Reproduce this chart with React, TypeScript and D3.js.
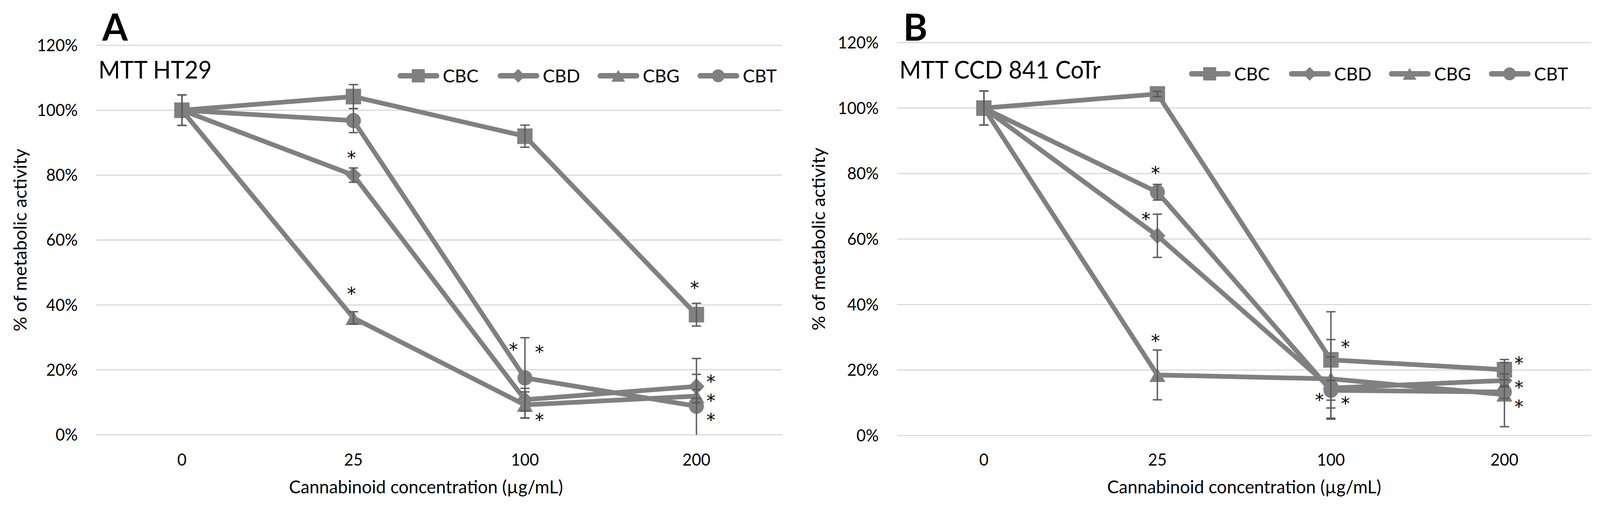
import React from 'react';
import * as d3 from 'd3';

const categories = ['0', '25', '100', '200'];
const seriesNames = ['CBC', 'CBD', 'CBG', 'CBT'];
const yTicks = [0, 20, 40, 60, 80, 100, 120];

// A: HT29, mean % and error
const htCBC = [100, 104.2, 92.0, 37.0];
const htCBD = [100, 80.0, 10.8, 14.9];
const htCBG = [100, 36.0, 9.2, 11.9];
const htCBT = [100, 96.8, 17.5, 8.8];
const htCBCErr = [4.7, 3.7, 3.4, 3.5];
const htCBDErr = [4.7, 2.2, 3.5, 3.7];
const htCBGErr = [4.7, 1.9, 4.0, 2.0];
const htCBTErr = [4.7, 3.7, 12.4, 14.7];

// B: CCD 841 CoTr
const coCBC = [100, 104.3, 23.1, 20.1];
const coCBD = [100, 61.0, 14.5, 16.8];
const coCBG = [100, 18.5, 17.3, 12.5];
const coCBT = [100, 74.3, 13.8, 13.3];
const coCBCErr = [5.2, 0.8, 14.7, 3.1];
const coCBDErr = [5.2, 6.6, 9.5, 2.0];
const coCBGErr = [5.2, 7.6, 12.0, 9.8];
const coCBTErr = [5.2, 2.4, 3.0, 2.0];

// significance marks: [category, value where the * sits, side of the point]
const htStars: [string, number, string][] = [
  ['25', 86.5, 'c'], ['25', 44.6, 'c'],
  ['100', 27.4, 'l'], ['100', 26.7, 'r'], ['100', 5.8, 'r'],
  ['200', 46.5, 'c'], ['200', 17.6, 'r'], ['200', 11.7, 'r'], ['200', 5.8, 'r'],
];
const coStars: [string, number, string][] = [
  ['25', 81.3, 'c'], ['25', 67.3, 'l'], ['25', 30.1, 'c'],
  ['100', 28.3, 'r'], ['100', 12.1, 'l'], ['100', 11.0, 'r'],
  ['200', 23.3, 'r'], ['200', 15.9, 'r'], ['200', 10.0, 'r'],
];

const panels = [
  {
    letter: 'A', title: 'MTT HT29',
    values: [htCBC, htCBD, htCBG, htCBT], errors: [htCBCErr, htCBDErr, htCBGErr, htCBTErr], stars: htStars,
    x0: 251, x1: 2042, yTop: 116, yBottom: 1113, yTitleX: 53, xTitleX: 1112, legendX: 1038, legendY: 194,
  },
  {
    letter: 'B', title: 'MTT CCD 841 CoTr',
    values: [coCBC, coCBD, coCBG, coCBT], errors: [coCBCErr, coCBDErr, coCBGErr, coCBTErr], stars: coStars,
    x0: 2342, x1: 4154, yTop: 109, yBottom: 1115, yTitleX: 2138, xTitleX: 3248, legendX: 3104, legendY: 189,
  },
];

const W = 4177;
const H = 1298;
const GREY = '#808080';
const FONT = 'Lato, "Open Sans", sans-serif';
const shapes = ['square', 'diamond', 'triangle', 'circle'];

function markerPath(shape: string, k = 1) {
  if (shape === 'square') { const h = 20 * k; return `M${-h},${-h}H${h}V${h}H${-h}Z`; }
  if (shape === 'diamond') { const h = 21 * k; return `M0,${-h}L${h},0L0,${h}L${-h},0Z`; }
  if (shape === 'triangle') { const h = 18 * k, w = 21 * k; return `M0,${-h}L${w},${h}L${-w},${h}Z`; }
  const r = 19.5 * k;
  return `M${r},0A${r},${r} 0 1 1 ${-r},0A${r},${r} 0 1 1 ${r},0Z`;
}

const starDx: Record<string, number> = { l: -30, c: -5, r: 38 };

function Panel({ p }: { p: typeof panels[number] }) {
  const x = d3.scaleBand<string>().domain(categories).range([p.x0, p.x1]);
  const cx = (c: string) => (x(c) as number) + x.bandwidth() / 2;
  const y = d3.scaleLinear().domain([0, 120]).range([p.yBottom, p.yTop]);
  const line = d3.line<number>().x((_, i) => cx(categories[i])).y(d => y(d));

  return (
    <g>
      {yTicks.map(t => (
        <g key={t}>
          <line x1={p.x0} x2={p.x1} y1={y(t)} y2={y(t)} stroke="#d9d9d9" strokeWidth={3} />
          <text x={p.x0 - 48} y={y(t) + 15} textAnchor="end" fontSize={42} fontFamily={FONT} fill="#000">{t}%</text>
        </g>
      ))}
      {categories.map(c => (
        <text key={c} x={cx(c)} y={1192} textAnchor="middle" fontSize={42} fontFamily={FONT} fill="#000">{c}</text>
      ))}
      <text x={p.xTitleX} y={1263} textAnchor="middle" fontSize={46} fontFamily={FONT} fill="#000">
        Cannabinoid concentration (µg/mL)
      </text>
      <text transform={`translate(${p.yTitleX + 16},${(p.yTop + p.yBottom) / 2}) rotate(-90)`} textAnchor="middle"
        fontSize={47} fontFamily={FONT} fill="#000">% of metabolic activity</text>
      <text x={p.x0 + 16} y={104} fontSize={96} fontWeight="bold" fontFamily={FONT} fill="#000">{p.letter}</text>
      <text x={p.x0 + 6} y={201} fontSize={61} fontFamily={FONT} fill="#000">{p.title}</text>

      {seriesNames.map((name, i) => {
        const lx = p.legendX + i * 261;
        return (
          <g key={name}>
            <line x1={lx + 7} x2={lx + 102} y1={p.legendY} y2={p.legendY} stroke={GREY} strokeWidth={14} strokeLinecap="round" />
            <path d={markerPath(shapes[i], 0.85)} transform={`translate(${lx + 54},${p.legendY})`} fill={GREY} />
            <text x={lx + 118} y={p.legendY + 17} fontSize={47} fontFamily={FONT} fill="#000">{name}</text>
          </g>
        );
      })}

      {p.values.map((vals, i) => (
        <path key={'l' + i} d={line(vals) || ''} fill="none" stroke={GREY} strokeWidth={12} strokeLinejoin="round" />
      ))}
      {p.values.map((vals, i) => vals.map((v, j) => (
        <path key={`m${i}-${j}`} d={markerPath(shapes[i])} transform={`translate(${cx(categories[j])},${y(v)})`} fill={GREY} />
      )))}
      {p.values.map((vals, i) => vals.map((v, j) => {
        const e = p.errors[i][j];
        const xc = cx(categories[j]);
        const hi = y(v + e), lo = y(Math.max(0, v - e));
        return (
          <g key={`e${i}-${j}`} stroke="#5a5a5a" strokeWidth={3.5}>
            <line x1={xc} x2={xc} y1={hi} y2={lo} />
            <line x1={xc - 12} x2={xc + 12} y1={hi} y2={hi} />
            {v - e > 0 && <line x1={xc - 12} x2={xc + 12} y1={lo} y2={lo} />}
          </g>
        );
      }))}
      {p.stars.map(([c, v, side], k) => (
        <text key={'s' + k} x={cx(c) + starDx[side]} y={y(v) + 26} textAnchor="middle" fontSize={47}
          fontFamily='"DejaVu Sans", sans-serif' fill="#000">*</text>
      ))}
    </g>
  );
}

export default function App() {
  return (
    <svg viewBox={`0 0 ${W} ${H}`} preserveAspectRatio="none"
      style={{ position: 'fixed', left: 0, top: 0, width: '100vw', height: '100vh', display: 'block', background: '#fff' }}>
      <rect width={W} height={H} fill="#fff" />
      {panels.map(p => <Panel key={p.letter} p={p} />)}
    </svg>
  );
}
